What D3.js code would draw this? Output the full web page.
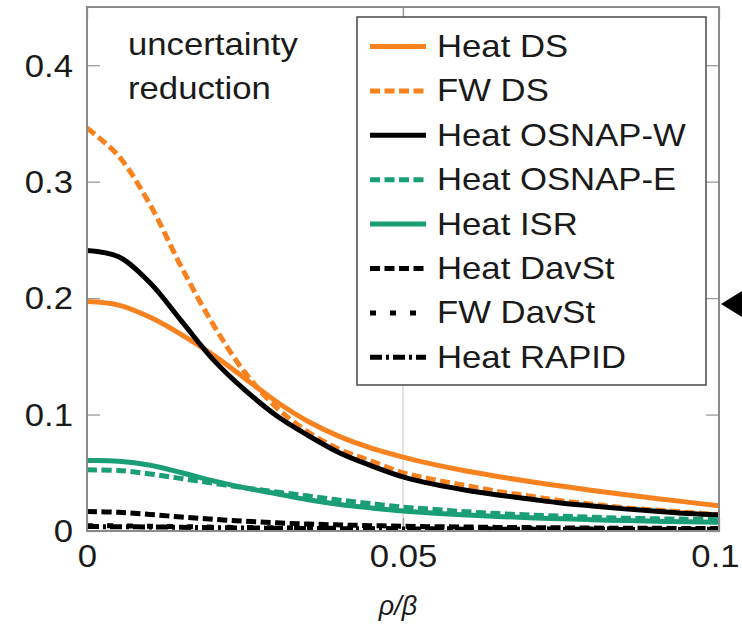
<!DOCTYPE html>
<html>
<head>
<meta charset="utf-8">
<script src="https://cdn.jsdelivr.net/npm/d3@7/dist/d3.min.js"></script>
<style>
  html, body { margin: 0; padding: 0; background: #fff; }
  svg text { font-family: "Liberation Sans", Arial, Helvetica, sans-serif; fill: #1a1a1a; }
</style>
</head>
<body>
<div id="chart"></div>
<script>
const rhoBeta = [0, 0.005, 0.01, 0.015, 0.02, 0.025, 0.03, 0.035, 0.04, 0.045, 0.05,
  0.055, 0.06, 0.065, 0.07, 0.075, 0.08, 0.085, 0.09, 0.095, 0.1];

const heatDS = [0.197, 0.194, 0.1835, 0.1685, 0.151, 0.131, 0.111, 0.094, 0.081, 0.0712, 0.0635,
  0.057, 0.0515, 0.0468, 0.0425, 0.0386, 0.0348, 0.0313, 0.028, 0.0248, 0.0216];
const fwDS = [0.346, 0.322, 0.280, 0.226, 0.177, 0.136, 0.106, 0.085, 0.070, 0.060, 0.050,
  0.044, 0.039, 0.034, 0.030, 0.026, 0.023, 0.020, 0.018, 0.016, 0.014];
const heatOsnapW = [0.241, 0.2355, 0.213, 0.180, 0.147, 0.121, 0.099, 0.082, 0.067, 0.056, 0.0465,
  0.040, 0.035, 0.031, 0.0275, 0.024, 0.0215, 0.019, 0.017, 0.015, 0.0137];
const heatOsnapE = [0.0525, 0.052, 0.049, 0.045, 0.041, 0.037, 0.0335, 0.030, 0.0265, 0.0235, 0.0205,
  0.0185, 0.0165, 0.015, 0.0137, 0.0127, 0.0118, 0.011, 0.0105, 0.0101, 0.0098];
const heatISR = [0.0605, 0.060, 0.0565, 0.050, 0.043, 0.037, 0.032, 0.0268, 0.0228, 0.0198, 0.0172,
  0.0153, 0.0138, 0.0125, 0.0114, 0.0105, 0.0097, 0.009, 0.0084, 0.0079, 0.0075];
const heatDavSt = [0.0168, 0.016, 0.0142, 0.012, 0.010, 0.0084, 0.007, 0.006, 0.0052, 0.0046, 0.0041,
  0.0037, 0.0034, 0.0031, 0.0029, 0.0027, 0.0025, 0.0024, 0.0023, 0.0022, 0.0021];
const fwDavSt = [0.0045, 0.0044, 0.0041, 0.0037, 0.0033, 0.003, 0.0027, 0.0025, 0.0023, 0.0022, 0.0021,
  0.002, 0.0019, 0.0018, 0.0018, 0.0017, 0.0017, 0.0016, 0.0016, 0.0015, 0.0015];
const heatRapid = [0.0038, 0.0037, 0.0035, 0.0032, 0.0029, 0.0026, 0.0024, 0.0022, 0.002, 0.0019, 0.0018,
  0.0017, 0.0016, 0.0015, 0.0015, 0.0014, 0.0014, 0.0013, 0.0013, 0.0012, 0.0012];

const seriesNames = ["Heat DS", "FW DS", "Heat OSNAP-W", "Heat OSNAP-E", "Heat ISR",
  "Heat DavSt", "FW DavSt", "Heat RAPID"];
const seriesValues = [heatDS, fwDS, heatOsnapW, heatOsnapE, heatISR, heatDavSt, fwDavSt, heatRapid];

const xTicks = [0, 0.05, 0.1];
const yTicks = [0, 0.1, 0.2, 0.3, 0.4];

const ORANGE = "#f7821f";
const GREEN = "#1a9e76";
const BLACK = "#000";

// line style per series, same order as seriesNames
const styles = [
  { color: ORANGE, dash: null },
  { color: ORANGE, dash: "10,4.5" },
  { color: BLACK, dash: null },
  { color: GREEN, dash: "10,4.5" },
  { color: GREEN, dash: null },
  { color: BLACK, dash: "10,4.5" },
  { color: BLACK, dash: "6,14" },
  { color: BLACK, dash: "12,4,3,4" },
];

const width = 742;
const height = 627;
const FONT = 31;
const STRETCH = 1.12; // the original glyphs are a bit wider than Liberation Sans

const x = d3.scaleLinear().domain([0, 0.1]).range([87, 719]);
const y = d3.scaleLinear().domain([0, 0.45]).range([531, 7]);

const svg = d3.select("#chart")
  .append("svg")
    .attr("width", width)
    .attr("height", height);

// Move x/y of each text into a transform so the glyphs can be widened.
function widen(sel) {
  sel.each(function() {
    const t = d3.select(this);
    const tx = +t.attr("x") || 0;
    const ty = +t.attr("y") || 0;
    t.attr("x", null).attr("y", null)
      .attr("transform", `translate(${tx},${ty}) scale(${STRETCH},1)`);
  });
}

svg.append("defs")
  .append("clipPath")
    .attr("id", "plot-clip")
  .append("rect")
    .attr("x", x(0))
    .attr("y", y(0.45))
    .attr("width", x(0.1) - x(0))
    .attr("height", y(0) - y(0.45));

// Vertical grid line at 0.05
svg.append("line")
  .attr("x1", x(0.05)).attr("x2", x(0.05))
  .attr("y1", y(0.45)).attr("y2", y(0))
  .attr("stroke", "#cfcfcf")
  .attr("stroke-width", 1.2);

// Axes with inward ticks on all four sides
function styleAxis(g) {
  g.select(".domain").remove();
  g.selectAll(".tick line").attr("stroke", "#9a9a9a").attr("stroke-width", 1.3);
  g.selectAll(".tick text")
    .attr("font-size", FONT)
    .attr("fill", "#1a1a1a");
}

const gLeft = svg.append("g")
  .attr("transform", `translate(${x(0)},0)`)
  .call(d3.axisLeft(y).tickValues(yTicks).tickSizeInner(-13).tickSizeOuter(0)
    .tickPadding(14).tickFormat(d => String(d)))
  .call(styleAxis);
gLeft.selectAll(".tick text").attr("dy", "0.35em");
widen(gLeft.selectAll(".tick text"));

const gBottom = svg.append("g")
  .attr("transform", `translate(0,${y(0)})`)
  .call(d3.axisBottom(x).tickValues(xTicks).tickSizeInner(-13).tickSizeOuter(0)
    .tickPadding(14).tickFormat(d => String(d)))
  .call(styleAxis);
// last label sits against the page edge, nudge it in a little
gBottom.selectAll(".tick text").attr("x", d => (d === 0.1 ? -4 : 0));
widen(gBottom.selectAll(".tick text"));

svg.append("g")
  .attr("transform", `translate(${x(0.1)},0)`)
  .call(d3.axisRight(y).tickValues(yTicks).tickSizeInner(-13).tickSizeOuter(0).tickFormat(""))
  .call(styleAxis);

svg.append("g")
  .attr("transform", `translate(0,${y(0.45)})`)
  .call(d3.axisTop(x).tickValues(xTicks).tickSizeInner(-13).tickSizeOuter(0).tickFormat(""))
  .call(styleAxis);

// Curves
const line = d3.line()
  .x((d, i) => x(rhoBeta[i]))
  .y(d => y(d))
  .curve(d3.curveCatmullRom.alpha(0.5));

svg.append("g")
  .attr("clip-path", "url(#plot-clip)")
  .selectAll("path")
  .data(seriesValues)
  .join("path")
    .attr("d", line)
    .attr("fill", "none")
    .attr("stroke", (d, i) => styles[i].color)
    .attr("stroke-width", 5)
    .attr("stroke-dasharray", (d, i) => styles[i].dash);

// Plot frame
svg.append("rect")
  .attr("x", x(0))
  .attr("y", y(0.45))
  .attr("width", x(0.1) - x(0))
  .attr("height", y(0) - y(0.45))
  .attr("fill", "none")
  .attr("stroke", "#8a8a8a")
  .attr("stroke-width", 2);

// Annotation
const note = svg.append("g");
note.selectAll("text")
  .data(["uncertainty", "reduction"])
  .join("text")
    .attr("x", 128)
    .attr("y", (d, i) => 55 + i * 44)
    .attr("font-size", FONT)
    .text(d => d);
widen(note.selectAll("text"));

// Legend
const legend = svg.append("g");
legend.append("rect")
  .attr("x", 357)
  .attr("y", 17)
  .attr("width", 349)
  .attr("height", 368)
  .attr("fill", "#fff")
  .attr("stroke", "#4a4a4a")
  .attr("stroke-width", 1.5);

const rowH = 44.4;
const rows = legend.selectAll("g.row")
  .data(seriesNames)
  .join("g")
    .attr("class", "row")
    .attr("transform", (d, i) => `translate(0,${46.5 + i * rowH})`);

rows.append("line")
  .attr("x1", 370).attr("x2", 426)
  .attr("y1", 0).attr("y2", 0)
  .attr("stroke", (d, i) => styles[i].color)
  .attr("stroke-width", 5)
  .attr("stroke-dasharray", (d, i) => styles[i].dash);

rows.append("text")
  .attr("x", 437)
  .attr("y", 10.5)
  .attr("font-size", FONT)
  .text(d => d);
widen(rows.selectAll("text"));

// Axis label
svg.append("text")
  .attr("x", 398)
  .attr("y", 615)
  .attr("text-anchor", "middle")
  .attr("font-family", "'Liberation Serif', 'DejaVu Serif', serif")
  .attr("font-style", "italic")
  .attr("font-size", 27)
  .attr("fill", "#3a3a3a")
  .text("ρ/β");

// Marker arrow at the right edge
svg.append("path")
  .attr("d", d3.line()([[721, 304], [742, 291], [742, 317]]) + "Z")
  .attr("fill", "#000");
</script>
</body>
</html>
